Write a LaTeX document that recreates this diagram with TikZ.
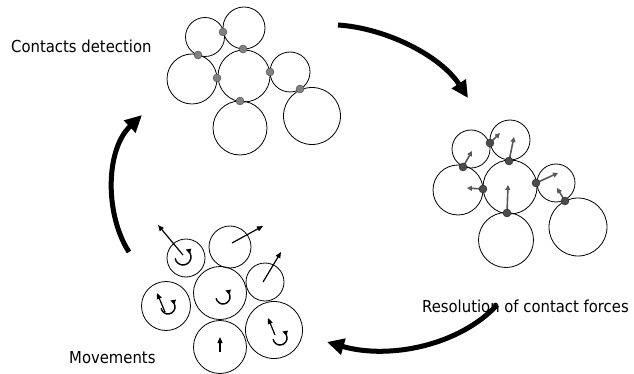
\documentclass[tikz,border=0pt]{standalone}
\usepackage{fontspec}
\setmainfont{DejaVu Sans Condensed}
\usetikzlibrary{arrows.meta}

\begin{document}
\begin{tikzpicture}[x=1pt,y=-1pt,
  particle/.style={line width=0.8pt},
  contact/.style={circle,draw=black!70,fill=black!50,inner sep=0pt,minimum size=8pt},
  loaded/.style={circle,draw=black!85,fill=black!70,inner sep=0pt,minimum size=8pt},
  force/.style={draw=black!65,line width=1.6pt,-{Triangle[length=5pt,width=5pt]}},
  move/.style={line width=1.2pt,-{Triangle[length=6pt,width=5pt]}},
  spin/.style={line width=1.4pt,-{Triangle[length=5pt,width=5pt]}},
  stagearrow/.style={line width=5pt,-{Triangle[length=17pt,width=16pt]}},
  stagename/.style={anchor=base west,inner sep=0pt,font=\fontsize{16.5}{18}\selectfont}]
\useasboundingbox (0,0) rectangle (634,374);

% contacts detection
\draw[particle] (205,37)  circle(19.5);
\draw[particle] (244,28)  circle(21);
\draw[particle] (192,79)  circle(25);
\draw[particle] (244,76)  circle(26);
\draw[particle] (290,72)  circle(20);
\draw[particle] (240,128) circle(27);
\draw[particle] (312,116) circle(28.5);

\node[contact] (d1) at (223,32)  {};
\node[contact] (d2) at (243,49)  {};
\node[contact] (d3) at (198,55)  {};
\node[contact] (d4) at (217,78)  {};
\node[contact] (d5) at (270,72)  {};
\node[contact] (d6) at (240,101) {};
\node[contact] (d7) at (300,89)  {};

% resolution of contact forces
\draw[particle] (471,149) circle(19);
\draw[particle] (510,140) circle(20);
\draw[particle] (458,190) circle(25);
\draw[particle] (510,187) circle(27);
\draw[particle] (556,183) circle(19);
\draw[particle] (506,240) circle(27.5);
\draw[particle] (578,227) circle(29);

\draw[force] (490,143) -- ++(10,-10);
\draw[force] (509,161) -- ++(5,-24);
\draw[force] (463,167) -- ++(9,-16);
\draw[force] (483,189) -- ++(-16,-1);
\draw[force] (536,183) -- ++(22,-10);
\draw[force] (507,213) -- ++(1,-28);
\draw[force] (565,201) -- ++(-8,-13);

\node[loaded] (r1) at (490,143) {};
\node[loaded] (r2) at (509,161) {};
\node[loaded] (r3) at (463,167) {};
\node[loaded] (r4) at (483,189) {};
\node[loaded] (r5) at (536,183) {};
\node[loaded] (r6) at (507,213) {};
\node[loaded] (r7) at (565,201) {};

% movements
\draw[particle] (186,258) circle(19);
\draw[particle] (230,247) circle(21);
\draw[particle] (166,306) circle(24.5);
\draw[particle] (220,293) circle(26.5);
\draw[particle] (265,282) circle(19);
\draw[particle] (220,347) circle(26.5);
\draw[particle] (274,330) circle(28.5);

\draw[move] (183,255) -- (158,225);
\draw[move] (232,243) -- (263,226);
\draw[move] (263,282) -- (281,252);
\draw[move] (165,312) -- (157,293);
\draw[move] (220,352) -- (220,337);
\draw[move] (275,335) -- (268,318);

\draw[spin] (183,257) ++(170:8) arc[start angle=170,end angle=-70,radius=8];
\draw[spin] (168,307) ++(170:7) arc[start angle=170,end angle=-70,radius=7];
\draw[spin] (223,297) ++(170:7) arc[start angle=170,end angle=-70,radius=7];
\draw[spin] (280,338) ++(170:7) arc[start angle=170,end angle=-70,radius=7];

% stage names
\node[stagename] (detect) at (11,53)  {Contacts detection};
\node[stagename] (resolve) at (422,312) {Resolution of contact forces};
\node[stagename] (movement) at (69,363) {Movements};

% cycle
\coordinate (a1) at (338,25);
\coordinate (b1) at (468,98);
\coordinate (a2) at (497,305);
\coordinate (b2) at (327,342);
\coordinate (a3) at (129,252);
\coordinate (b3) at (142,115);
\draw[stagearrow] (a1) .. controls (385,28) and (440,55) .. (b1);
\draw[stagearrow] (a2) .. controls (460,345) and (390,360) .. (b2);
\draw[stagearrow] (a3) .. controls (105,215) and (105,150) .. (b3);

\end{tikzpicture}
\end{document}
